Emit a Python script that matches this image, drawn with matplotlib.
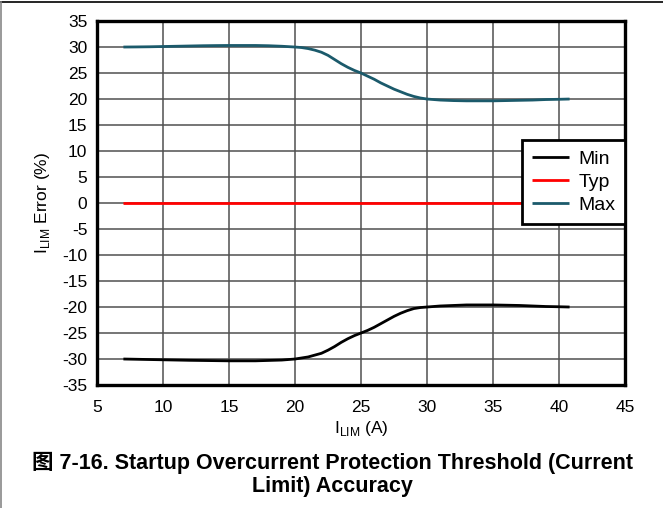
import numpy as np
import matplotlib.pyplot as plt
import matplotlib as mpl
from matplotlib.lines import Line2D

mpl.rcParams['font.family'] = ['Liberation Sans', 'Noto Sans CJK SC', 'DejaVu Sans']
mpl.rcParams['axes.unicode_minus'] = False

# current limit setting (A) and error (%) for each corner
i_max = [7, 8, 9, 10, 11, 12, 13, 14, 15, 16, 17, 18, 19, 20, 20.5, 21, 21.5, 22, 22.5, 23, 23.5, 24, 24.5,
         25, 25.5, 26, 26.5, 27, 27.5, 28, 28.5, 29, 29.5, 30, 31, 32, 33, 34, 35, 36, 37, 38, 39, 40, 40.8]
err_max = [30.0, 30.02, 30.05, 30.1, 30.15, 30.2, 30.25, 30.28, 30.3, 30.3, 30.3, 30.25, 30.15, 30.0, 29.9,
           29.7, 29.4, 29.0, 28.4, 27.6, 26.8, 26.1, 25.5, 25.0, 24.4, 23.8, 23.1, 22.5, 21.9, 21.4, 20.9,
           20.5, 20.2, 20.0, 19.8, 19.7, 19.65, 19.65, 19.65, 19.7, 19.75, 19.8, 19.9, 19.95, 20.0]

i_min = [7, 10, 12, 15, 17, 19, 20, 21, 22, 22.5, 23, 23.5, 24, 24.5, 25, 25.5, 26, 26.5, 27, 27.5, 28,
         28.5, 29, 29.5, 30, 31, 32, 33, 34, 35, 36, 37, 38, 39, 40, 40.8]
err_min = [-30.0, -30.15, -30.25, -30.35, -30.35, -30.2, -30.0, -29.6, -28.9, -28.3, -27.6, -26.8, -26.1,
           -25.5, -25.0, -24.5, -23.9, -23.2, -22.5, -21.8, -21.2, -20.7, -20.3, -20.1, -20.0, -19.8, -19.7,
           -19.6, -19.6, -19.6, -19.65, -19.7, -19.8, -19.9, -19.95, -20.0]

i_typ = [7, 40.8]
err_typ = [0.0, 0.0]

fig = plt.figure(figsize=(6.63, 5.08), dpi=100)
ax = fig.add_axes([0.1463, 0.2421, 0.7964, 0.7165])

kw = dict(lw=2.0, solid_joinstyle='round', solid_capstyle='butt')
ax.plot(i_min, err_min, color='black', label='Min', **kw)
ax.plot(i_typ, err_typ, color='#ff0000', label='Typ', **kw)
ax.plot(i_max, err_max, color='#1b5a6b', label='Max', **kw)

ax.set_xlim(5, 45)
ax.set_ylim(-35, 35)
ax.set_xticks(np.arange(5, 46, 5))
ax.set_yticks(np.arange(-35, 36, 5))
ax.grid(True, color='#505050', lw=1.1)
ax.set_axisbelow(True)
ax.tick_params(length=0, labelsize=12.5)
ax.tick_params(axis='x', pad=11)
ax.tick_params(axis='y', pad=7)
for s in ax.spines.values():
    s.set_linewidth(2.4)

ax.set_xlabel('I$_{\\mathregular{LIM}}$ (A)', fontsize=12.5, labelpad=3)
ax.set_ylabel('I$_{\\mathregular{LIM}}$ Error (%)', fontsize=12.5, labelpad=7)

leg = ax.legend(loc='upper right', bbox_to_anchor=(1.0, 0.672), fontsize=14,
                frameon=True, fancybox=False, framealpha=1, edgecolor='black',
                borderpad=0.5, handlelength=1.9, handletextpad=0.5, labelspacing=0.28,
                borderaxespad=0)
leg.get_frame().set_linewidth(2.0)

fig.text(0.501, 0.066, '图 7-16. Startup Overcurrent Protection Threshold (Current\nLimit) Accuracy',
         ha='center', va='center', fontsize=15.5, fontweight='bold', linespacing=1.1)

# page border lines
fig.add_artist(Line2D([0, 1], [0.996, 0.996], color='black', lw=1.2, transform=fig.transFigure))
fig.add_artist(Line2D([0.001, 0.001], [0, 0.996], color='#888888', lw=1.2, transform=fig.transFigure))

fig.savefig('out.png', dpi=100)
